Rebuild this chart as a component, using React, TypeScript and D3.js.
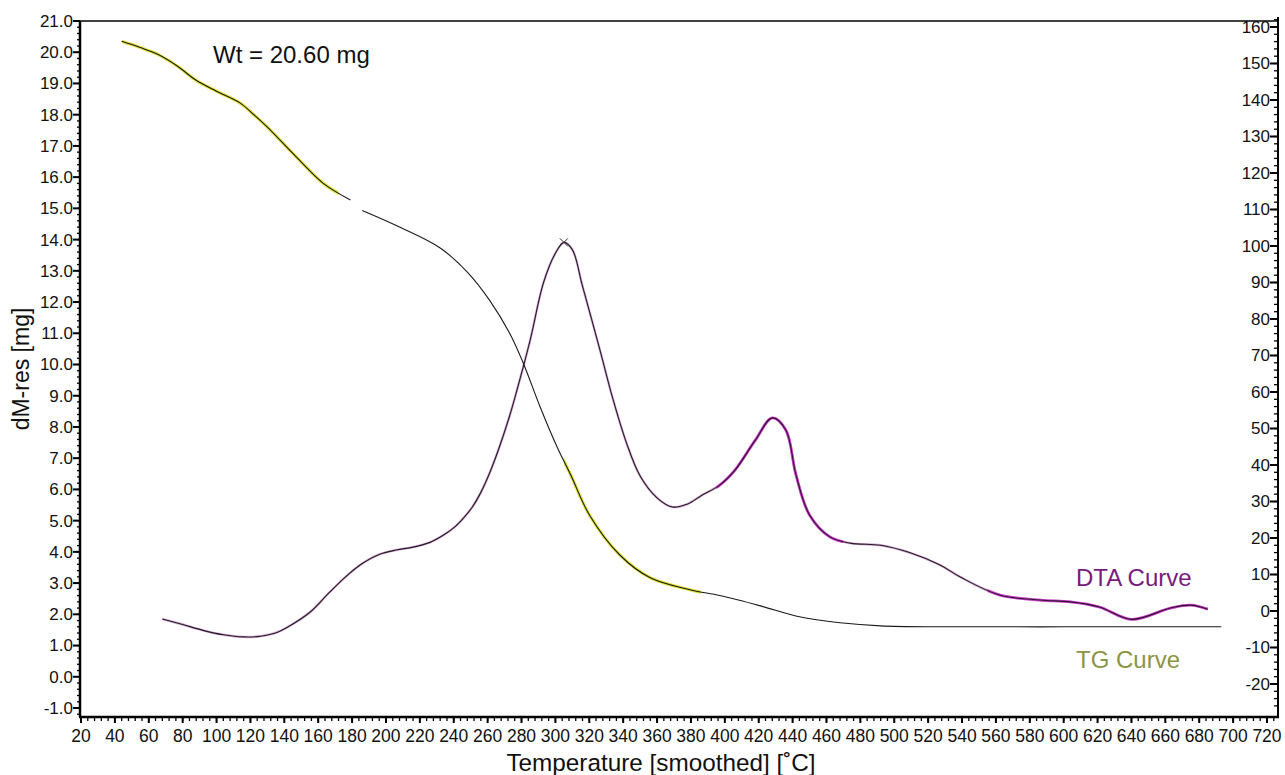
import React from "react";
import * as d3 from "d3";

// ---- data ----
const xTicks = d3.range(20, 721, 20);
const leftTicks = d3.range(-1, 21.01, 1);
const rightTicks = d3.range(-20, 161, 10);

// TG curve (temperature °C, mass mg) – null marks the small gap
const tgTemp = [44, 55, 65, 77, 88, 100, 114, 122, 130, 147, 163, 179, 181, 186, 208, 232, 248, 261, 273, 281, 291, 301, 309, 320, 338, 356, 380, 397, 421, 444, 468, 492, 527, 600, 693];
const tgMass = [20.35, 20.15, 19.94, 19.55, 19.1, 18.75, 18.37, 18.0, 17.6, 16.65, 15.8, 15.27, null, 14.93, 14.4, 13.73, 12.96, 12.07, 11.0, 10.05, 8.64, 7.36, 6.47, 5.19, 3.9, 3.17, 2.78, 2.6, 2.27, 1.92, 1.73, 1.63, 1.6, 1.6, 1.6];

// DTA curve (temperature °C, signal)
const dtaTemp = [68, 80, 92, 104, 116, 126, 136, 146, 156, 166, 176, 186, 196, 206, 216, 226, 234, 241, 246, 251, 256, 261, 267, 273, 277, 285, 293, 300, 305, 310, 316, 326, 334, 342, 350, 360, 369, 378, 386, 397, 406, 418, 428, 436, 442, 450, 462, 474, 492, 509, 527, 539, 562, 586, 604, 621, 640, 663, 675, 685];
const dtaVal = [-2.2, -3.7, -5.3, -6.5, -7.1, -6.9, -5.8, -3.3, 0.0, 4.8, 9.3, 13.0, 15.5, 16.7, 17.5, 18.8, 20.8, 23.2, 25.6, 28.5, 32.5, 37.6, 45, 53.5, 60, 74, 90, 98, 101, 99, 89, 72, 58, 46, 37, 31, 28.5, 29.3, 31.6, 34.5, 38.6, 46.8, 52.9, 49.6, 37.3, 26.3, 20.3, 18.6, 18, 16, 12.6, 9.3, 4.4, 3, 2.5, 1.1, -2.3, 0.8, 1.6, 0.5];

// highlighted temperature ranges
const tgHighlights = [[44, 172], [305, 386]];
const dtaHighlights = [[395, 470], [555, 686]];

const W = 1285, H = 775;
const plotL = 80, plotR = 1278, plotT = 21, plotB = 717;

const x = d3.scaleLinear().domain([20, 720]).range([81, 1267]);
const yL = d3.scaleLinear().domain([-1, 21]).range([708, 21]);
const yR = d3.scaleLinear().domain([-20, 160]).range([684, 27]);

const FONT = "'Liberation Sans', Arial, sans-serif";

type P = [number, number | null];
const tgPts: P[] = tgTemp.map((t, i) => [t, tgMass[i]]);
const dtaPts: P[] = dtaTemp.map((t, i) => [t, dtaVal[i]]);

const lineL = d3.line<P>().defined(d => d[1] != null).x(d => x(d[0])).y(d => yL(d[1] as number)).curve(d3.curveCatmullRom.alpha(0.5));
const lineR = d3.line<P>().defined(d => d[1] != null).x(d => x(d[0])).y(d => yR(d[1] as number)).curve(d3.curveCatmullRom.alpha(0.5));

function clipRange(scale: d3.ScaleLinear<number, number>, a: number, b: number) {
  return { x0: scale(a), x1: scale(b) };
}

export default function App() {
  const tgPath = lineL(tgPts) || "";
  const dtaPath = lineR(dtaPts) || "";
  const minorX = d3.range(20, 725, 4);
  const minorL = d3.range(-1.2, 21.01, 0.2);
  const minorR = d3.range(-26, 163, 2);
  const peakI = d3.maxIndex(dtaVal);
  const px = x(dtaTemp[peakI]);
  const py = yR(dtaVal[peakI]);
  return (
    <div style={{ position: "fixed", left: 0, top: 0 }}>
      <svg width={W} height={H} style={{ display: "block", background: "#fff" }}>
        <defs>
          {tgHighlights.map((r, i) => {
            const c = clipRange(x, r[0], r[1]);
            return (
              <clipPath id={`tgc${i}`} key={i}>
                <rect x={c.x0} y={0} width={c.x1 - c.x0} height={H} />
              </clipPath>
            );
          })}
          {dtaHighlights.map((r, i) => {
            const c = clipRange(x, r[0], r[1]);
            return (
              <clipPath id={`dtc${i}`} key={i}>
                <rect x={c.x0} y={0} width={c.x1 - c.x0} height={H} />
              </clipPath>
            );
          })}
        </defs>

        {/* DTA curve */}
        <path d={dtaPath} fill="none" stroke="#d2b0d2" strokeWidth={2.4} />
        {dtaHighlights.map((r, i) => (
          <path key={i} d={dtaPath} fill="none" stroke="#d23cd2" strokeWidth={2.8} clipPath={`url(#dtc${i})`} />
        ))}
        <path d={dtaPath} fill="none" stroke="#2b162b" strokeWidth={1.1} />
        <path d={`M${px - 4},${py - 4}L${px + 4},${py + 4}M${px - 4},${py + 4}L${px + 4},${py - 4}`} stroke="#333" strokeWidth={1} />

        {/* TG curve */}
        {tgHighlights.map((r, i) => (
          <path key={i} d={tgPath} fill="none" stroke="#e2e43c" strokeWidth={3.2} clipPath={`url(#tgc${i})`} />
        ))}
        <path d={tgPath} fill="none" stroke="#1a1a1a" strokeWidth={1.1} />

        {/* frame lines */}
        <line x1={plotL} x2={plotR} y1={plotT} y2={plotT} stroke="#000" strokeWidth={1.5} />
        <line x1={plotL} x2={plotL} y1={plotT} y2={plotB} stroke="#000" strokeWidth={2.5} />
        <line x1={plotL - 1} x2={plotR + 1} y1={plotB} y2={plotB} stroke="#000" strokeWidth={2.5} />
        <line x1={plotR} x2={plotR} y1={17} y2={plotB} stroke="#000" strokeWidth={2} />

        {/* bottom axis ticks */}
        {minorX.map(v => (
          <line key={"mx" + v} x1={x(v)} x2={x(v)} y1={plotB} y2={plotB + 4} stroke="#000" strokeWidth={1.3} />
        ))}
        {xTicks.map(v => (
          <g key={"x" + v}>
            <line x1={x(v)} x2={x(v)} y1={plotB} y2={plotB + 6} stroke="#000" strokeWidth={2} />
            <text x={x(v)} y={742} textAnchor="middle" fontFamily={FONT} fontSize={17.5} fill="#111">{v}</text>
          </g>
        ))}

        {/* left axis ticks */}
        {minorL.map((v, i) => (
          <line key={"ml" + i} x1={plotL - 3} x2={plotL} y1={yL(v)} y2={yL(v)} stroke="#000" strokeWidth={1.3} />
        ))}
        {leftTicks.map(v => (
          <g key={"l" + v}>
            <line x1={plotL - 7} x2={plotL} y1={yL(v)} y2={yL(v)} stroke="#000" strokeWidth={2} />
            <text x={plotL - 7} y={yL(v)} dy="0.35em" textAnchor="end" fontFamily={FONT} fontSize={17} fill="#111">{v.toFixed(1)}</text>
          </g>
        ))}

        {/* right axis ticks */}
        {minorR.map(v => (
          <line key={"mr" + v} x1={plotR - 4} x2={plotR} y1={yR(v)} y2={yR(v)} stroke="#000" strokeWidth={1.3} />
        ))}
        {rightTicks.map(v => (
          <g key={"r" + v}>
            <line x1={plotR - 8} x2={plotR} y1={yR(v)} y2={yR(v)} stroke="#000" strokeWidth={2} />
            <text x={plotR - 8} y={yR(v)} dy="0.35em" textAnchor="end" fontFamily={FONT} fontSize={17} fill="#111">{v}</text>
          </g>
        ))}

        {/* axis titles */}
        <text x={661} y={771} textAnchor="middle" fontFamily={FONT} fontSize={24.3} fill="#111">Temperature [smoothed] [˚C]</text>
        <text transform={`translate(29,${(plotT + plotB) / 2}) rotate(-90)`} textAnchor="middle" fontFamily={FONT} fontSize={23} fill="#111">dM-res [mg]</text>

        {/* annotations */}
        <text x={213} y={63} fontFamily={FONT} fontSize={24} fill="#111">Wt = 20.60 mg</text>
        <text x={1076} y={586} fontFamily={FONT} fontSize={24} fill="#7a1a7f">DTA Curve</text>
        <text x={1076} y={668} fontFamily={FONT} fontSize={24} fill="#8c9446">TG Curve</text>
      </svg>
    </div>
  );
}
